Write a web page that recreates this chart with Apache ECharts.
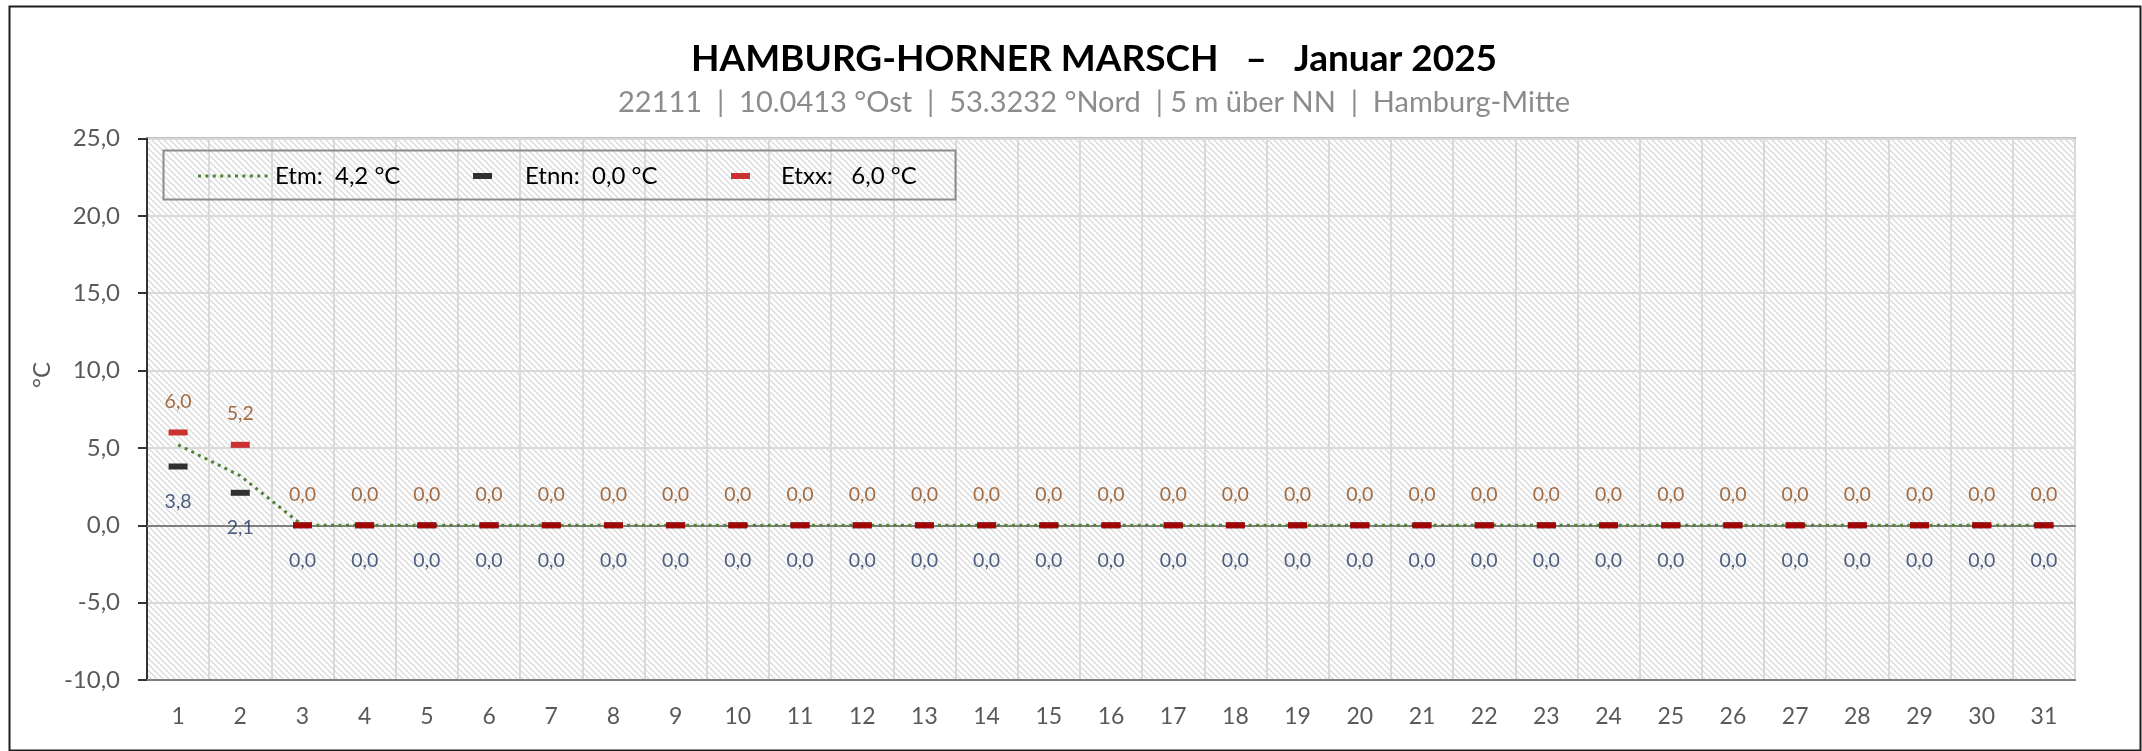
<!DOCTYPE html>
<html>
<head>
<meta charset="utf-8">
<script src="https://cdn.jsdelivr.net/npm/echarts@6/dist/echarts.min.js"></script>
<style>html,body{margin:0;padding:0;background:#fff;}#c{width:2142px;height:751px;}</style>
</head>
<body>
<div id="c"></div>
<script>
// ---- data ----
const days = ['1','2','3','4','5','6','7','8','9','10','11','12','13','14','15','16','17','18','19','20','21','22','23','24','25','26','27','28','29','30','31'];
const etm  = [5.2, 3.2, 0,0,0,0,0,0,0,0,0,0,0,0,0,0,0,0,0,0,0,0,0,0,0,0,0,0,0,0,0];
const etnn = [3.8, 2.1, 0,0,0,0,0,0,0,0,0,0,0,0,0,0,0,0,0,0,0,0,0,0,0,0,0,0,0,0,0];
const etxx = [6.0, 5.2, 0,0,0,0,0,0,0,0,0,0,0,0,0,0,0,0,0,0,0,0,0,0,0,0,0,0,0,0,0];
const legendTexts = {Etm: 'Etm:  4,2 °C', Etnn: 'Etnn:  0,0 °C', Etxx: 'Etxx:   6,0 °C'};
const titleText = 'HAMBURG-HORNER MARSCH   –   Januar 2025';
const subtitleText = '22111  |  10.0413 °Ost  |  53.3232 °Nord  | 5 m über NN  |  Hamburg-Mitte';
const yMin = -10, yMax = 25, yStep = 5;

const FONT = 'Lato';
const fmt = v => Number(v).toFixed(1).replace('.', ',');

// hatch pattern
const tile = document.createElement('canvas');
const S = 6;
tile.width = S; tile.height = S;
const tc = tile.getContext('2d');
tc.fillStyle = '#ffffff'; tc.fillRect(0,0,S,S);
tc.strokeStyle = '#dadada'; tc.lineWidth = 1.3;
tc.beginPath();
tc.moveTo(-1,-1); tc.lineTo(S+1,S+1);
tc.moveTo(-1,S-1); tc.lineTo(1,S+1);
tc.moveTo(S-1,-1); tc.lineTo(S+1,1);
tc.stroke();

const chart = echarts.init(document.getElementById('c'), null, {renderer:'canvas'});

// dotted legend icon
let dots = 'path://M0,0M72,18';
for (let i = 0; i < 10; i++) { const x = i*7.4; dots += 'M'+x+',7.5h3v3h-3z'; }

const option = {
  animation: false,
  backgroundColor: '#ffffff',
  textStyle: {fontFamily: FONT},
  title: [
    {text: titleText, left: 1094, top: 41, textAlign: 'center', padding: 0,
     textStyle: {fontFamily: FONT, fontWeight: 'bold', fontSize: 37, color: '#000'}},
    {text: subtitleText, left: 1094, top: 88, textAlign: 'center', padding: 0,
     textStyle: {fontFamily: FONT, fontWeight: 'normal', fontSize: 29, color: '#8c8c8c'}}
  ],
  legend: [
    {data: [{name:'Etm', icon: dots, itemStyle:{color:'#548235', borderWidth:0}}], left: 198, top: 164, padding: 0,
     itemWidth: 72, itemHeight: 18, selectedMode: false, formatter: n => legendTexts[n],
     textStyle: {fontFamily: FONT, fontSize: 24, color: '#000'}},
    {data: [{name:'Etnn', icon: 'path://M0,0M72,18M25,6h19v6h-19z', itemStyle:{color:'#000000', borderWidth:0}}], left: 448, top: 164, padding: 0,
     itemWidth: 72, itemHeight: 18, selectedMode: false, formatter: n => legendTexts[n],
     textStyle: {fontFamily: FONT, fontSize: 24, color: '#000'}},
    {data: [{name:'Etxx', icon: 'path://M0,0M72,18M27,6h19v6h-19z', itemStyle:{color:'#c00000', borderWidth:0}}], left: 704, top: 164, padding: 0,
     itemWidth: 72, itemHeight: 18, selectedMode: false, formatter: n => legendTexts[n],
     textStyle: {fontFamily: FONT, fontSize: 24, color: '#000'}}
  ],
  grid: {left: 147, right: 67, top: 138.5, bottom: 71, show: true,
         backgroundColor: {image: tile, repeat: 'repeat'}, borderColor: '#808080', borderWidth: 2},
  xAxis: [
    {type: 'category', data: days, boundaryGap: true, position: 'bottom',
     axisLine: {show: true, onZero: false, lineStyle: {color: '#7f7f7f', width: 2}},
     axisTick: {show: false},
     axisLabel: {color: '#595959', fontSize: 23, fontFamily: FONT, margin: 25, interval: 0},
     splitLine: {show: true, interval: 0, lineStyle: {color: '#d9d9d9', width: 2}}},
    {type: 'category', data: days, boundaryGap: true, position: 'bottom',
     axisLine: {show: true, onZero: true, lineStyle: {color: '#7f7f7f', width: 2}},
     axisTick: {show: false}, axisLabel: {show: false}, splitLine: {show: false}}
  ],
  yAxis: {type: 'value', min: yMin, max: yMax, interval: yStep,
    axisLine: {show: true, lineStyle: {color: '#333333', width: 2}},
    axisTick: {show: true, inside: false, length: 9, lineStyle: {color: '#333333', width: 2}},
    axisLabel: {color: '#595959', fontSize: 24, fontFamily: FONT, margin: 27, formatter: v => fmt(v)},
    splitLine: {show: true, lineStyle: {color: '#d9d9d9', width: 2}}},
  graphic: [
    {type: 'rect', left: 161, top: 148, shape: {width: 792, height: 49}, z: 10,
     style: {fill: 'none', stroke: '#8c8c8c', lineWidth: 2}},
    {type: 'rect', left: 7, top: 4, shape: {width: 2131, height: 744}, z: 10,
     style: {fill: 'none', stroke: '#1e1e1e', lineWidth: 2}},
    {type: 'text', x: 42, y: 375, rotation: Math.PI/2, z: 10,
     style: {text: '°C', font: '24px ' + FONT, fill: '#595959', textAlign: 'center', textVerticalAlign: 'middle'}}
  ],
  series: [
    {name: 'Etm', type: 'line', data: etm, symbol: 'none', z: 2,
     lineStyle: {color: '#548235', width: 3, type: [3, 4.4], cap: 'butt'},
     itemStyle: {color: '#548235'}},
    {name: 'Etnn', type: 'scatter', data: etnn, symbol: 'rect', symbolSize: [19, 6], z: 3,
     itemStyle: {color: '#000000'},
     label: {show: true, position: 'bottom', distance: 22, formatter: p => fmt(p.value),
             color: '#203864', fontSize: 19.5, fontFamily: FONT}},
    {name: 'Etxx', type: 'scatter', data: etxx, symbol: 'rect', symbolSize: [19, 6], z: 4,
     itemStyle: {color: '#c00000'},
     label: {show: true, position: 'top', distance: 18, formatter: p => fmt(p.value),
             color: '#8f4a17', fontSize: 19.5, fontFamily: FONT}}
  ]
};
chart.setOption(option);
</script>
</body>
</html>
